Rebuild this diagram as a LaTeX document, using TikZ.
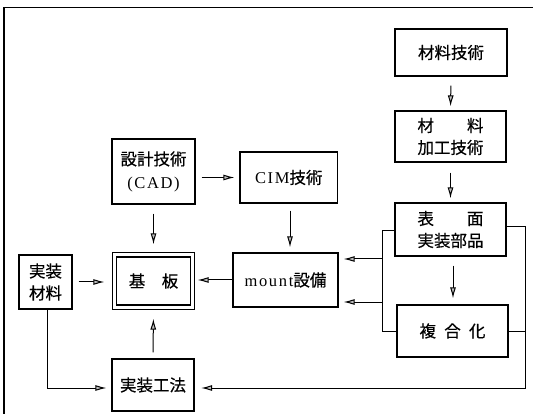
\documentclass[tikz,border=0pt]{standalone}
\usepackage{fontspec}
\setmainfont[LetterSpace=10]{Liberation Serif}
\newfontfamily\cjk[FakeBold=0.4]{Noto Sans CJK JP}
\usetikzlibrary{arrows.meta}
\newcommand{\jp}[1]{{\cjk #1}}
\tikzset{
  box/.style={draw, line width=1.2pt, align=center, inner sep=0pt,
    font=\fontsize{16.5}{22}\selectfont},
  arr/.style={line width=1pt, -{Latex[length=11pt,width=6pt,fill=gray!50]}},
  ln/.style={line width=1pt}
}
\begin{document}
\begin{tikzpicture}[x=1pt,y=-1pt]
\useasboundingbox (0,0) rectangle (533,414);
% frame
\coordinate (f1) at (4,414);
\coordinate (f2) at (4,7.5);
\coordinate (f3) at (533,7.5);
\draw[line width=1.3pt] (f1) -- (f2) -- (f3);
% nodes
\node[box, minimum width=112, minimum height=47] (matech) at (451,52.5) {\jp{材料技術}};
\node[box, minimum width=111, minimum height=51] (makou) at (450.5,136.5) {\jp{材\hspace{2em}料}\\\jp{加工技術}};
\node[box, minimum width=111, minimum height=53] (hyomen) at (450.5,229.5) {\jp{表\hspace{2em}面}\\\jp{実装部品}};
\node[box, minimum width=111, minimum height=52] (fukugo) at (452.5,331) {\jp{複\hspace{0.5em}合\hspace{0.5em}化}};
\node[box, minimum width=83, minimum height=65] (sekkei) at (153.5,171.5) {\jp{設計技術}\\[1pt](CAD)};
\node[box, minimum width=97.5, minimum height=51] (cim) at (288.75,177.5) {CIM\jp{技術}};
\node[box, minimum width=105, minimum height=54] (mount) at (285.5,280) {mount\jp{設備}};
\node[box, double, double distance=3pt, minimum width=78, minimum height=52] (kiban) at (153.5,281) {\jp{基\hspace{1em}板}};
\node[box, minimum width=53, minimum height=54] (jmat) at (45.5,282) {\jp{実装}\\\jp{材料}};
\node[box, minimum width=82, minimum height=52] (jkoho) at (153,385) {\jp{実装工法}};
% helper coordinates
\coordinate (rc) at (525,227);
\coordinate (lc) at (47.6,309);
% arrows
\draw[arr, shorten <=9pt, shorten >=4pt] (matech.south) -- (makou.north);
\draw[arr, shorten <=10pt, shorten >=4pt] (makou.south) -- (hyomen.north);
\draw[arr, shorten <=6pt, shorten >=5pt] (sekkei.east |- cim.west) -- (cim.west);
\draw[arr, shorten <=9pt, shorten >=10pt] (sekkei.south) -- (kiban.north);
\draw[arr, shorten <=7pt, shorten >=5pt] ([xshift=1.25pt]cim.south) -- ([xshift=4.5pt]mount.north);
\draw[arr, shorten <=6pt, shorten >=9.5pt] (jmat.east) -- (jmat.east -| kiban.west);
\draw[arr, shorten >=4.5pt] (mount.west) -- (mount.west -| kiban.east);
\draw[arr, shorten <=6pt, shorten >=11pt] (jkoho.north) -- (kiban.south);
\draw[arr, shorten <=9pt, shorten >=6pt] ([xshift=2.5pt]hyomen.south) -- ([xshift=0.5pt]fukugo.north);
\draw[arr, shorten >=5pt] ([yshift=-1.5pt]hyomen.west) -- ++(-12,0) |- ([yshift=-22pt]mount.east);
\draw[arr, shorten >=5pt] (fukugo.west) -- ++(-14,0) |- ([yshift=21pt]mount.east);
\draw[arr, shorten >=6.5pt] (hyomen.east |- rc) -- (rc) |- ([yshift=-3pt]jkoho.east);
\draw[ln] (fukugo.east) -- (fukugo.east -| rc);
\draw[arr, shorten >=5pt] (lc) |- ([yshift=-3pt]jkoho.west);
\end{tikzpicture}
\end{document}
